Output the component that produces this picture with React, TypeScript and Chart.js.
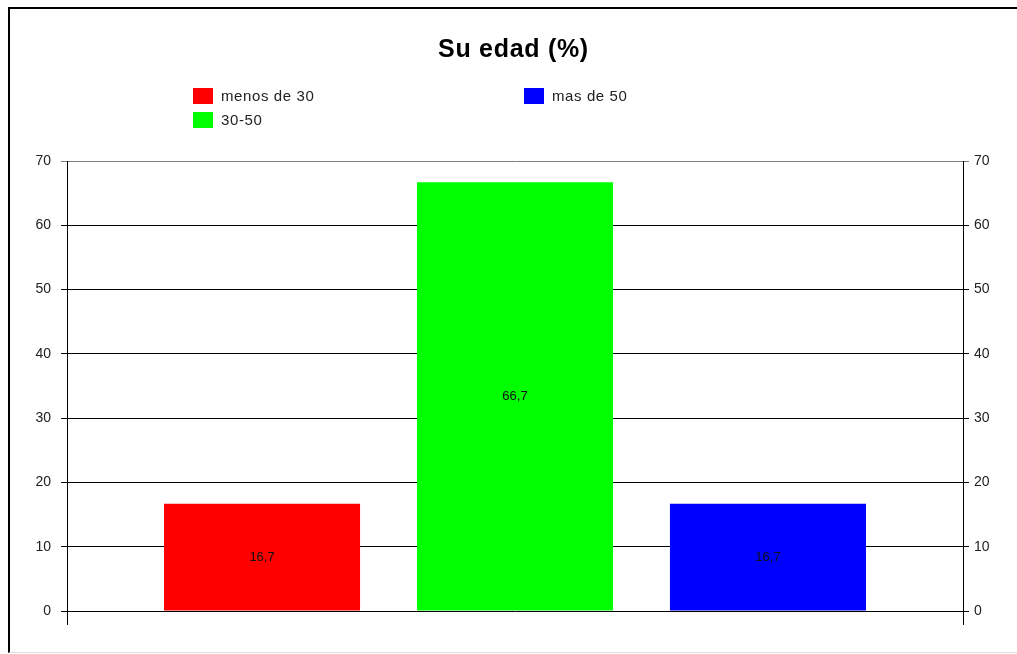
import React, { useEffect, useRef } from "react";
import { Chart, registerables } from "chart.js";

Chart.register(...registerables);

// Chart content
const chartTitle = "Su edad (%)";
const categories = [""];
const seriesNames = ["menos de 30", "30-50", "mas de 50"];
const seriesValues = [16.7, 66.7, 16.7];
const seriesColors = ["#ff0000", "#00ff00", "#0000ff"];
const yMin = 0;
const yMax = 70;
const yStep = 10;

const FONT = '"Liberation Sans", Arial, sans-serif';

const formatValue = (v: number) => v.toFixed(1).replace(".", ",");

// Writes each bar's value in the middle of the bar
const barValueLabels = {
  id: "barValueLabels",
  afterDatasetsDraw(chart: any) {
    const ctx = chart.ctx;
    ctx.save();
    ctx.font = `13px ${FONT}`;
    ctx.fillStyle = "#111";
    ctx.textAlign = "center";
    ctx.textBaseline = "middle";
    chart.data.datasets.forEach((ds: any, di: number) => {
      const meta = chart.getDatasetMeta(di);
      meta.data.forEach((bar: any, i: number) => {
        const { x, y, base } = bar.getProps(["x", "y", "base"], true);
        ctx.fillText(formatValue(ds.data[i]), x, (y + base) / 2);
      });
    });
    ctx.restore();
  },
};

export default function App() {
  const canvasRef = useRef<HTMLCanvasElement | null>(null);

  useEffect(() => {
    if (!canvasRef.current) return;
    const tickFont = { family: FONT, size: 14 };
    const chart = new Chart(canvasRef.current, {
      type: "bar",
      data: {
        labels: categories,
        datasets: seriesNames.map((name, i) => ({
          label: name,
          data: [seriesValues[i]],
          backgroundColor: seriesColors[i],
          borderWidth: 0,
          categoryPercentage: 0.847,
          barPercentage: 0.775,
        })),
      },
      options: {
        responsive: false,
        animation: false,
        layout: { padding: { top: 161, left: 0, right: 0, bottom: 0 } },
        plugins: {
          legend: { display: false },
          title: { display: false },
          tooltip: { enabled: false },
        },
        scales: {
          x: {
            type: "category",
            offset: true,
            ticks: { display: false },
            grid: {
              offset: true,
              color: "#000",
              tickLength: 14,
              drawOnChartArea: false,
            },
            border: { display: false },
            afterFit: (scale: any) => {
              scale.height = 43;
            },
          },
          y: {
            position: "left",
            min: yMin,
            max: yMax,
            ticks: {
              stepSize: yStep,
              padding: 10,
              color: "#222",
              font: tickFont,
            },
            grid: {
              color: (c: any) => (c.tick && c.tick.value === yMax ? "#808080" : "#000"),
              tickLength: 6,
            },
            border: { color: "#000", width: 1 },
            afterFit: (scale: any) => {
              scale.width = 67;
            },
          },
          y2: {
            position: "right",
            min: yMin,
            max: yMax,
            ticks: {
              stepSize: yStep,
              padding: 5,
              color: "#222",
              font: tickFont,
            },
            grid: {
              drawOnChartArea: false,
              color: (c: any) => (c.tick && c.tick.value === yMax ? "#808080" : "#000"),
              tickLength: 6,
            },
            border: { color: "#000", width: 1 },
            afterFit: (scale: any) => {
              scale.width = 54;
            },
          },
        },
      },
      plugins: [barValueLabels],
    } as any);
    return () => chart.destroy();
  }, []);

  return (
    <div
      style={{
        position: "absolute",
        left: 0,
        top: 0,
        width: 1017,
        height: 654,
        background: "#fff",
        overflow: "hidden",
        fontFamily: FONT,
      }}
    >
      <canvas ref={canvasRef} width={1017} height={654} style={{ position: "absolute", left: 0, top: 0 }} />
      <div
        style={{
          position: "absolute",
          left: 0,
          width: 1027,
          top: 48,
          transform: "translateY(-50%)",
          textAlign: "center",
          fontWeight: "bold",
          fontSize: 25,
          letterSpacing: "0.7px",
          color: "#000",
          lineHeight: "28px",
        }}
      >
        {chartTitle}
      </div>
      {seriesNames.map((name, i) => {
        const col = Math.floor(i / 2);
        const row = i % 2;
        const left = 193 + col * 331;
        const top = 88 + row * 24;
        return (
          <div key={name} style={{ position: "absolute", left, top, height: 16, display: "flex", alignItems: "center" }}>
            <div style={{ width: 20, height: 16, background: seriesColors[i] }} />
            <span
              style={{
                marginLeft: 8,
                fontSize: 15,
                letterSpacing: "0.6px",
                color: "#222",
                lineHeight: "16px",
                whiteSpace: "nowrap",
              }}
            >
              {name}
            </span>
          </div>
        );
      })}
      <div
        style={{
          position: "absolute",
          left: 8,
          top: 7,
          width: 1020,
          height: 643,
          borderLeft: "2px solid #000",
          borderTop: "2px solid #000",
          borderBottom: "1px solid #ddd",
          pointerEvents: "none",
        }}
      />
    </div>
  );
}
